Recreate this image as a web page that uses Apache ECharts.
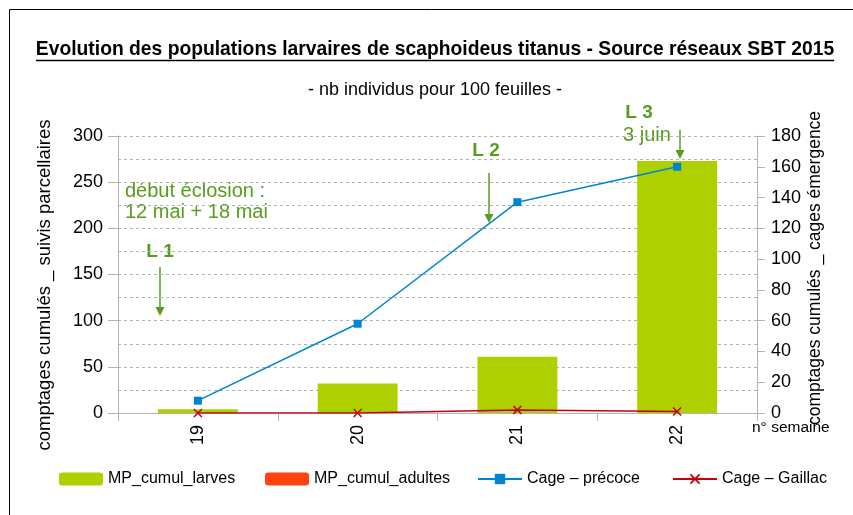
<!DOCTYPE html>
<html>
<head>
<meta charset="utf-8">
<script src="https://cdn.jsdelivr.net/npm/echarts@6/dist/echarts.min.js"></script>
<style>
html,body{margin:0;padding:0;background:#fff;}
#c{width:853px;height:515px;}
</style>
</head>
<body>
<div id="c"></div>
<script>
var weeks = ['19', '20', '21', '22'];
var mpLarves = [4, 32, 61, 273];
var mpAdultes = [0, 0, 0, 0];
var cagePrecoce = [8, 58, 137, 160];
var cageGaillac = [0, 0, 2, 1];

var FONT = '"Liberation Sans", Arial, sans-serif';
var GREEN = '#579d1c';
var xPath = 'path://M0,1.2 L1.2,0 L5,3.8 L8.8,0 L10,1.2 L6.2,5 L10,8.8 L8.8,10 L5,6.2 L1.2,10 L0,8.8 L3.8,5 Z';

var TITLE = 'Evolution des populations larvaires de scaphoideus titanus - Source réseaux SBT 2015';
var TITLE_FONT = 'bold 19.3px ' + FONT;
var ctx = document.createElement('canvas').getContext('2d');
ctx.font = TITLE_FONT;
var tw = ctx.measureText(TITLE).width;
var tcx = 435;

function arrow(x, y1, y2) {
  return {
    type: 'group',
    children: [
      { type: 'line', shape: { x1: x, y1: y1, x2: x, y2: y2 - 8 }, style: { stroke: GREEN, lineWidth: 1.5 } },
      { type: 'polygon', shape: { points: [[x - 4.5, y2 - 9], [x + 4.5, y2 - 9], [x, y2]] }, style: { fill: GREEN } }
    ]
  };
}

var chart = echarts.init(document.getElementById('c'));
var legendBase = {
  top: 471, itemWidth: 44, itemHeight: 13, itemGap: 7, padding: 0,
  textStyle: { fontFamily: FONT, fontSize: 16, color: '#000' }
};
chart.setOption({
  animation: false,
  backgroundColor: '#fff',
  textStyle: { fontFamily: FONT },
  grid: { left: 118, right: 96, top: 136, bottom: 102 },
  legend: [
    Object.assign({ left: 59, data: ['MP_cumul_larves'] }, legendBase),
    Object.assign({ left: 265, data: ['MP_cumul_adultes'] }, legendBase),
    Object.assign({ left: 477, data: ['Cage – précoce'] }, legendBase),
    Object.assign({ left: 672, data: ['Cage – Gaillac'] }, legendBase)
  ],
  xAxis: {
    type: 'category',
    data: weeks,
    boundaryGap: true,
    axisLine: { lineStyle: { color: '#b3b3b3', width: 1 } },
    axisTick: { show: true, length: 8, alignWithLabel: false, lineStyle: { color: '#b3b3b3' } },
    axisLabel: { rotate: 90, fontSize: 18, color: '#000', margin: 12, fontFamily: FONT }
  },
  yAxis: [
    {
      type: 'value', min: 0, max: 300, interval: 50,
      axisLine: { show: true, lineStyle: { color: '#b3b3b3' } },
      axisTick: { show: true, length: 10, lineStyle: { color: '#b3b3b3' } },
      axisLabel: { fontSize: 18, color: '#000', margin: 15, fontFamily: FONT },
      splitLine: { show: true, lineStyle: { color: '#b3b3b3', type: [3, 3] } },
      minorTick: { show: false, splitNumber: 2 },
      minorSplitLine: { show: true, lineStyle: { color: '#b3b3b3', type: [3, 3] } }
    },
    {
      type: 'value', min: 0, max: 180, interval: 20,
      axisLine: { show: true, lineStyle: { color: '#b3b3b3' } },
      axisTick: { show: true, length: 8, lineStyle: { color: '#b3b3b3' } },
      axisLabel: { fontSize: 18, color: '#000', margin: 14, fontFamily: FONT },
      splitLine: { show: false }
    }
  ],
  series: [
    { name: 'MP_cumul_larves', type: 'bar', stack: 'mp', data: mpLarves, barWidth: '50%', itemStyle: { color: '#aecf00' } },
    { name: 'MP_cumul_adultes', type: 'bar', stack: 'mp', data: mpAdultes, barWidth: '50%', itemStyle: { color: '#ff420e' } },
    { name: 'Cage – précoce', type: 'line', yAxisIndex: 1, data: cagePrecoce, symbol: 'rect', symbolSize: 8,
      lineStyle: { color: '#0084d1', width: 1.5 }, itemStyle: { color: '#0084d1' } },
    { name: 'Cage – Gaillac', type: 'line', yAxisIndex: 1, data: cageGaillac, symbol: xPath, symbolSize: 9,
      lineStyle: { color: '#c5000b', width: 1.5 }, itemStyle: { color: '#c5000b' } }
  ],
  graphic: [
    { type: 'rect', shape: { x: 9.5, y: 9.5, width: 860, height: 520 }, style: { fill: 'none', stroke: '#000', lineWidth: 1 }, silent: true },
    { type: 'text', x: tcx, y: 50, style: { text: TITLE, font: TITLE_FONT, fill: '#000', textAlign: 'center', textVerticalAlign: 'middle' } },
    { type: 'line', shape: { x1: tcx - tw / 2, y1: 60.5, x2: tcx + tw / 2, y2: 60.5 }, style: { stroke: '#000', lineWidth: 1.3 } },
    { type: 'text', x: 435, y: 90, style: { text: '- nb individus pour 100 feuilles -', font: '18px ' + FONT, fill: '#000', textAlign: 'center', textVerticalAlign: 'middle' } },
    { type: 'text', x: 752, y: 428, style: { text: 'n° semaine', font: '15.5px ' + FONT, fill: '#000', textVerticalAlign: 'middle' } },
    { type: 'text', x: 45, y: 285, rotation: Math.PI / 2, style: { text: 'comptages cumulés _ suivis parcellaires', font: '18.5px ' + FONT, fill: '#000', textAlign: 'center', textVerticalAlign: 'middle' } },
    { type: 'text', x: 815, y: 268, rotation: Math.PI / 2, style: { text: 'comptages cumulés _ cages émergence', font: '17.5px ' + FONT, fill: '#000', textAlign: 'center', textVerticalAlign: 'middle' } },
    { type: 'text', x: 125, y: 191, style: { text: 'début éclosion :', font: '20px ' + FONT, fill: GREEN, textVerticalAlign: 'middle' } },
    { type: 'text', x: 125, y: 212, style: { text: '12 mai + 18 mai', font: '20px ' + FONT, fill: GREEN, textVerticalAlign: 'middle' } },
    { type: 'text', x: 160, y: 252, style: { text: 'L 1', font: 'bold 19px ' + FONT, fill: GREEN, textAlign: 'center', textVerticalAlign: 'middle' } },
    { type: 'text', x: 486, y: 151, style: { text: 'L 2', font: 'bold 19px ' + FONT, fill: GREEN, textAlign: 'center', textVerticalAlign: 'middle' } },
    { type: 'text', x: 639, y: 113, style: { text: 'L 3', font: 'bold 19px ' + FONT, fill: GREEN, textAlign: 'center', textVerticalAlign: 'middle' } },
    { type: 'text', x: 647, y: 135, style: { text: '3 juin', font: '20px ' + FONT, fill: GREEN, textAlign: 'center', textVerticalAlign: 'middle' } },
    arrow(160, 267, 316),
    arrow(489, 173, 223),
    arrow(680, 130, 159)
  ]
});
</script>
</body>
</html>
